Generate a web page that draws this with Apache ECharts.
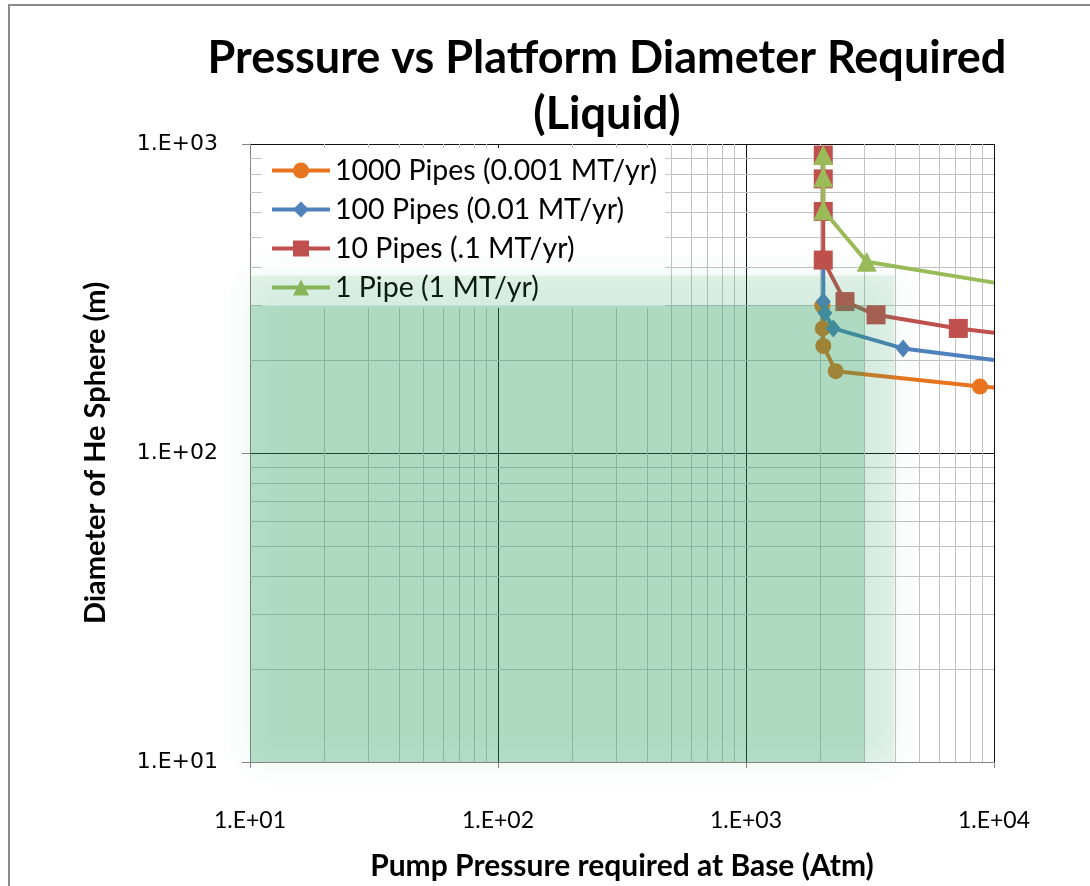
<!DOCTYPE html>
<html>
<head>
<meta charset="utf-8">
<script src="https://cdn.jsdelivr.net/npm/echarts@6/dist/echarts.min.js"></script>
<style>
html,body{margin:0;padding:0;background:#fff;}
#chart{width:1090px;height:886px;}
</style>
</head>
<body>
<div id="chart"></div>
<script>
// ---- data ----
const seriesNames = ['1000 Pipes (0.001 MT/yr)', '100 Pipes (0.01 MT/yr)', '10 Pipes (.1 MT/yr)', '1 Pipe (1 MT/yr)'];
const pipes1000X = [2030, 2040, 2050, 2300, 8780, 10000];
const pipes1000Y = [300, 253, 222, 184, 164, 163];
const pipes100X = [2049, 2050, 2080, 2250, 4300, 10000];
const pipes100Y = [421, 309, 284, 253, 218, 200];
const pipes10X = [2049, 2049, 2049, 2049, 2507, 3344, 7180, 10000];
const pipes10Y = [921, 771, 605, 421, 309, 280, 253, 245];
const pipes1X = [2049, 2049, 2049, 3066, 10000];
const pipes1Y = [921, 780, 610, 416, 356];
const shadeX = [10, 3000];
const shadeY = [10, 300];
const xTicks = [10, 100, 1000, 10000];
const yTicks = [10, 100, 1000];

// ---- styling ----
const colors = ['#E8741F', '#4F81BD', '#C0504D', '#9BBB59'];
const symbols = ['circle', 'diamond', 'rect', 'triangle'];
const symbolSizes = [16, [15, 18], 19, 20];
const xMin = xTicks[0], xMax = xTicks[xTicks.length - 1];
const yMin = yTicks[0], yMax = yTicks[yTicks.length - 1];

function pairs(xs, ys) {
  return xs.map((x, i) => {
    const item = { value: [x, ys[i]] };
    if (x >= xMax) item.symbol = 'none';
    return item;
  });
}
const seriesData = [
  pairs(pipes1000X, pipes1000Y),
  pairs(pipes100X, pipes100Y),
  pairs(pipes10X, pipes10Y),
  pairs(pipes1X, pipes1Y)
];

// minor grid values (2..9 per decade)
const minorX = [], minorY = [];
for (let d = xMin; d < xMax; d *= 10) for (let k = 2; k <= 9; k++) minorX.push(d * k);
for (let d = yMin; d < yMax; d *= 10) for (let k = 2; k <= 9; k++) minorY.push(d * k);

function expLabel(v) {
  const e = Math.round(Math.log10(v));
  return '1.E+' + String(e).padStart(2, '0');
}

const chart = echarts.init(document.getElementById('chart'), null, { renderer: 'canvas' });

const lineSeries = seriesNames.map((name, i) => ({
  name: name,
  type: 'line',
  data: seriesData[i],
  symbol: symbols[i],
  symbolSize: symbolSizes[i],
  showAllSymbol: true,
  lineStyle: { color: colors[i], width: 4 },
  itemStyle: { color: colors[i] },
  z: 3 + i,
  clip: true,
  animation: false
}));

const option = {
  animation: false,
  backgroundColor: '#fff',
  title: {
    text: 'Pressure vs Platform Diameter Required\n(Liquid)',
    left: 602,
    top: 25,
    textAlign: 'center',
    textStyle: { fontFamily: 'Lato', fontWeight: 'bold', fontSize: 45, lineHeight: 56, color: '#000' }
  },
  graphic: [{
    type: 'rect',
    shape: { x: 9, y: 5, width: 1200, height: 1000 },
    style: { fill: 'none', stroke: '#8a8a8a', lineWidth: 2 },
    silent: true
  }],
  legend: {
    data: seriesNames,
    orient: 'vertical',
    left: 262,
    top: 148,
    padding: [8, 8, 6, 8],
    itemGap: 10,
    itemWidth: 58,
    itemHeight: 20,
    backgroundColor: '#fff',
    lineStyle: { width: 4 },
    textStyle: { fontFamily: 'Lato', fontSize: 28.5, color: '#000', lineHeight: 24 }
  },
  grid: { left: 250, right: 96, top: 144, bottom: 124, containLabel: false },
  xAxis: {
    type: 'log', logBase: 10, min: xMin, max: xMax,
    name: 'Pump Pressure required at Base (Atm)',
    nameLocation: 'middle', nameGap: 89,
    nameTextStyle: { fontFamily: 'Lato', fontWeight: 'bold', fontSize: 30, color: '#000' },
    axisLine: { show: true, lineStyle: { color: '#868686', width: 1 } },
    axisTick: { show: true, inside: false, length: 6, lineStyle: { color: '#868686' } },
    axisLabel: { formatter: expLabel, margin: 47, fontFamily: 'Lato', fontSize: 23, color: '#000' },
    splitLine: { show: true, lineStyle: { color: '#111', width: 1 } },
    minorTick: { show: false }, minorSplitLine: { show: false }
  },
  yAxis: {
    type: 'log', logBase: 10, min: yMin, max: yMax,
    name: 'Diameter of He Sphere (m)',
    nameLocation: 'middle', nameGap: 140,
    nameTextStyle: { fontFamily: 'Lato', fontWeight: 'bold', fontSize: 29, color: '#000' },
    axisLine: { show: true, lineStyle: { color: '#868686', width: 1 } },
    axisTick: { show: true, inside: false, length: 8, lineStyle: { color: '#868686' } },
    axisLabel: { formatter: expLabel, margin: 32, fontFamily: 'DejaVu Sans', fontSize: 22, color: '#000' },
    splitLine: { show: true, lineStyle: { color: '#111', width: 1 } },
    minorTick: { show: false }, minorSplitLine: { show: false }
  },
  series: [
    {
      name: 'minor-grid',
      type: 'line',
      data: [],
      z: 1,
      silent: true,
      markLine: {
        silent: true,
        z: 1,
        symbol: ['none', 'none'],
        label: { show: false },
        animation: false,
        lineStyle: { color: '#c3c3c3', width: 1, type: 'solid' },
        emphasis: { disabled: true },
        data: minorX.map(v => ({ xAxis: v })).concat(minorY.map(v => ({ yAxis: v })))
      }
    },
    ...lineSeries,
    {
      name: 'shade',
      type: 'custom',
      z: 20,
      silent: true,
      clip: false,
      data: [[shadeX[0], shadeY[0], shadeX[1], shadeY[1]]],
      renderItem: function (params, api) {
        const p0 = api.coord([api.value(0), api.value(1)]);
        const p1 = api.coord([api.value(2), api.value(3)]);
        const x0 = Math.min(p0[0], p1[0]), x1 = Math.max(p0[0], p1[0]);
        const y0 = Math.min(p0[1], p1[1]), y1 = Math.max(p0[1], p1[1]);
        const pad = 30;
        return {
          type: 'group',
          children: [
            {
              type: 'rect',
              shape: { x: x0, y: y0 - pad, width: x1 - x0 + pad, height: y1 - y0 + pad },
              style: { fill: 'rgba(48,160,102,0.11)', shadowBlur: 30, shadowColor: 'rgba(48,160,102,0.9)' }
            },
            {
              type: 'rect',
              shape: { x: x0, y: y0, width: x1 - x0, height: y1 - y0 },
              style: { fill: 'rgba(48,160,102,0.24)' }
            }
          ]
        };
      }
    }
  ]
};
chart.setOption(option);
</script>
</body>
</html>
